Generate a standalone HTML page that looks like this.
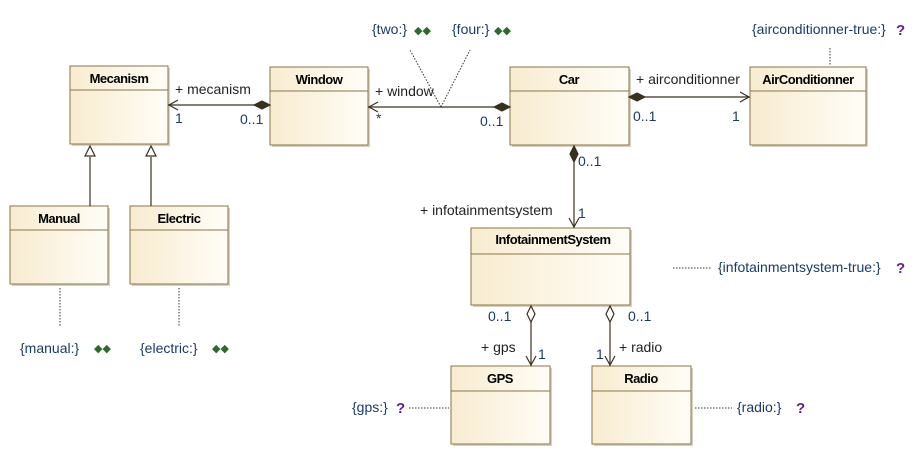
<!DOCTYPE html>
<html><head><meta charset="utf-8"><style>
body{margin:0;background:#fff;width:921px;height:457px;overflow:hidden}
svg text{font-family:"Liberation Sans",sans-serif;font-size:14px;fill:#222}
.n{fill:#1a3a6a}
.b{font-weight:bold;fill:#000;font-size:13px;letter-spacing:-0.5px}
.q{fill:#6a1a9a;font-weight:bold;font-size:15px}
.g{fill:#2d6a2d;font-size:11px}
</style></head><body>
<svg width="921" height="457" xmlns="http://www.w3.org/2000/svg">
<defs>
<linearGradient id="gr" x1="0" x2="1" y1="0" y2="0"><stop offset="0" stop-color="#f8ecd0"/><stop offset="1" stop-color="#fffdf7"/></linearGradient>
</defs>
<g stroke="#8a7548" fill="url(#gr)">
<rect x="72" y="68" width="98" height="78" fill="#d8d0c0" stroke="none"/>
<rect x="70" y="66" width="98" height="78"/><line x1="70" y1="90" x2="168" y2="90"/>
<rect x="272" y="69" width="98" height="78" fill="#d8d0c0" stroke="none"/>
<rect x="270" y="67" width="98" height="78"/><line x1="270" y1="91" x2="368" y2="91"/>
<rect x="512" y="69" width="119" height="78" fill="#d8d0c0" stroke="none"/>
<rect x="510" y="67" width="119" height="78"/><line x1="510" y1="91" x2="629" y2="91"/>
<rect x="752" y="69" width="116" height="78" fill="#d8d0c0" stroke="none"/>
<rect x="750" y="67" width="116" height="78"/><line x1="750" y1="91" x2="866" y2="91"/>
<rect x="12" y="208" width="98" height="78" fill="#d8d0c0" stroke="none"/>
<rect x="10" y="206" width="98" height="78"/><line x1="10" y1="230" x2="108" y2="230"/>
<rect x="132" y="208" width="98" height="78" fill="#d8d0c0" stroke="none"/>
<rect x="130" y="206" width="98" height="78"/><line x1="130" y1="230" x2="228" y2="230"/>
<rect x="473" y="230" width="159" height="77" fill="#d8d0c0" stroke="none"/>
<rect x="471" y="228" width="159" height="77"/><line x1="471" y1="254" x2="630" y2="254"/>
<rect x="453" y="368" width="99" height="78" fill="#d8d0c0" stroke="none"/>
<rect x="451" y="366" width="99" height="78"/><line x1="451" y1="391" x2="550" y2="391"/>
<rect x="594" y="368" width="99" height="78" fill="#d8d0c0" stroke="none"/>
<rect x="592" y="366" width="99" height="78"/><line x1="592" y1="391" x2="691" y2="391"/>
</g>
<g text-anchor="middle">
<text x="119" y="83" class="b">Mecanism</text>
<text x="319" y="84" class="b">Window</text>
<text x="569" y="84" class="b">Car</text>
<text x="808" y="84" class="b">AirConditionner</text>
<text x="59" y="223" class="b">Manual</text>
<text x="179" y="223" class="b">Electric</text>
<text x="553" y="244" class="b">InfotainmentSystem</text>
<text x="500" y="383" class="b">GPS</text>
<text x="641" y="383" class="b">Radio</text>
</g>
<g stroke="#3a3020" fill="none" stroke-width="1.2">
<line x1="168" y1="105" x2="255" y2="105"/><polyline points="178,100 169,105 178,110"/>
<polygon points="270,105 262,101 254,105 262,109" fill="#3a3020"/>
<line x1="368" y1="107" x2="495" y2="107"/><polyline points="378,102 369,107 378,112"/>
<polygon points="510,107 502,103 494,107 502,111" fill="#3a3020"/>
<line x1="645" y1="97" x2="750" y2="97"/><polyline points="740,92 749,97 740,102"/>
<polygon points="629,97 637,93 645,97 637,101" fill="#3a3020"/>
<line x1="574" y1="162" x2="574" y2="228"/><polyline points="569,218 574,227 579,218"/>
<polygon points="574,146 570,154 574,162 578,154" fill="#3a3020"/>
<line x1="90" y1="157" x2="90" y2="206"/><polygon points="90,146 85,156 95,156" fill="#fff"/>
<line x1="151" y1="157" x2="151" y2="206"/><polygon points="151,146 146,156 156,156" fill="#fff"/>
<line x1="531" y1="322" x2="531" y2="366"/><polyline points="526,356 531,365 536,356"/>
<polygon points="531,306 527,314 531,322 535,314" fill="#fff"/>
<line x1="610" y1="322" x2="610" y2="366"/><polyline points="605,356 610,365 615,356"/>
<polygon points="610,306 606,314 610,322 614,314" fill="#fff"/>
</g>
<g stroke="#333" stroke-dasharray="1.5,1.5" fill="none">
<line x1="441" y1="107" x2="410" y2="50"/><line x1="441" y1="107" x2="470" y2="50"/>
<line x1="830" y1="48" x2="830" y2="66"/>
<line x1="60" y1="288" x2="60" y2="326"/><line x1="179" y1="288" x2="179" y2="326"/>
<line x1="673" y1="268" x2="712" y2="268"/>
<line x1="409" y1="408" x2="449" y2="408"/>
<line x1="695" y1="408" x2="732" y2="408"/>
</g>
<text x="175" y="94">+ mecanism</text><text x="175" y="123" class="n">1</text><text x="240" y="124" class="n">0..1</text>
<text x="375" y="96">+ window</text><text x="376" y="123" class="n">*</text><text x="480" y="126" class="n">0..1</text>
<text x="636" y="84">+ airconditionner</text><text x="633" y="121" class="n">0..1</text><text x="732" y="121" class="n">1</text>
<text x="578" y="166" class="n">0..1</text><text x="578" y="218" class="n">1</text>
<text x="420" y="215">+ infotainmentsystem</text>
<text x="488" y="321" class="n">0..1</text><text x="628" y="321" class="n">0..1</text>
<text x="481" y="352">+ gps</text><text x="538" y="359" class="n">1</text>
<text x="596" y="359" class="n">1</text><text x="619" y="352">+ radio</text>
<text x="372" y="34" class="n">{two:}</text><text x="414" y="34" class="g">◆◆</text>
<text x="452" y="34" class="n">{four:}</text><text x="494" y="34" class="g">◆◆</text>
<text x="752" y="34" class="n">{airconditionner-true:}</text><text x="896" y="35" class="q">?</text>
<text x="718" y="272" class="n">{infotainmentsystem-true:}</text><text x="896" y="273" class="q">?</text>
<text x="352" y="412" class="n">{gps:}</text><text x="396" y="413" class="q">?</text>
<text x="737" y="412" class="n">{radio:}</text><text x="796" y="413" class="q">?</text>
<text x="20" y="353" class="n">{manual:}</text><text x="94" y="352" class="g">◆◆</text>
<text x="140" y="353" class="n">{electric:}</text><text x="212" y="352" class="g">◆◆</text>
</svg>
</body></html>
